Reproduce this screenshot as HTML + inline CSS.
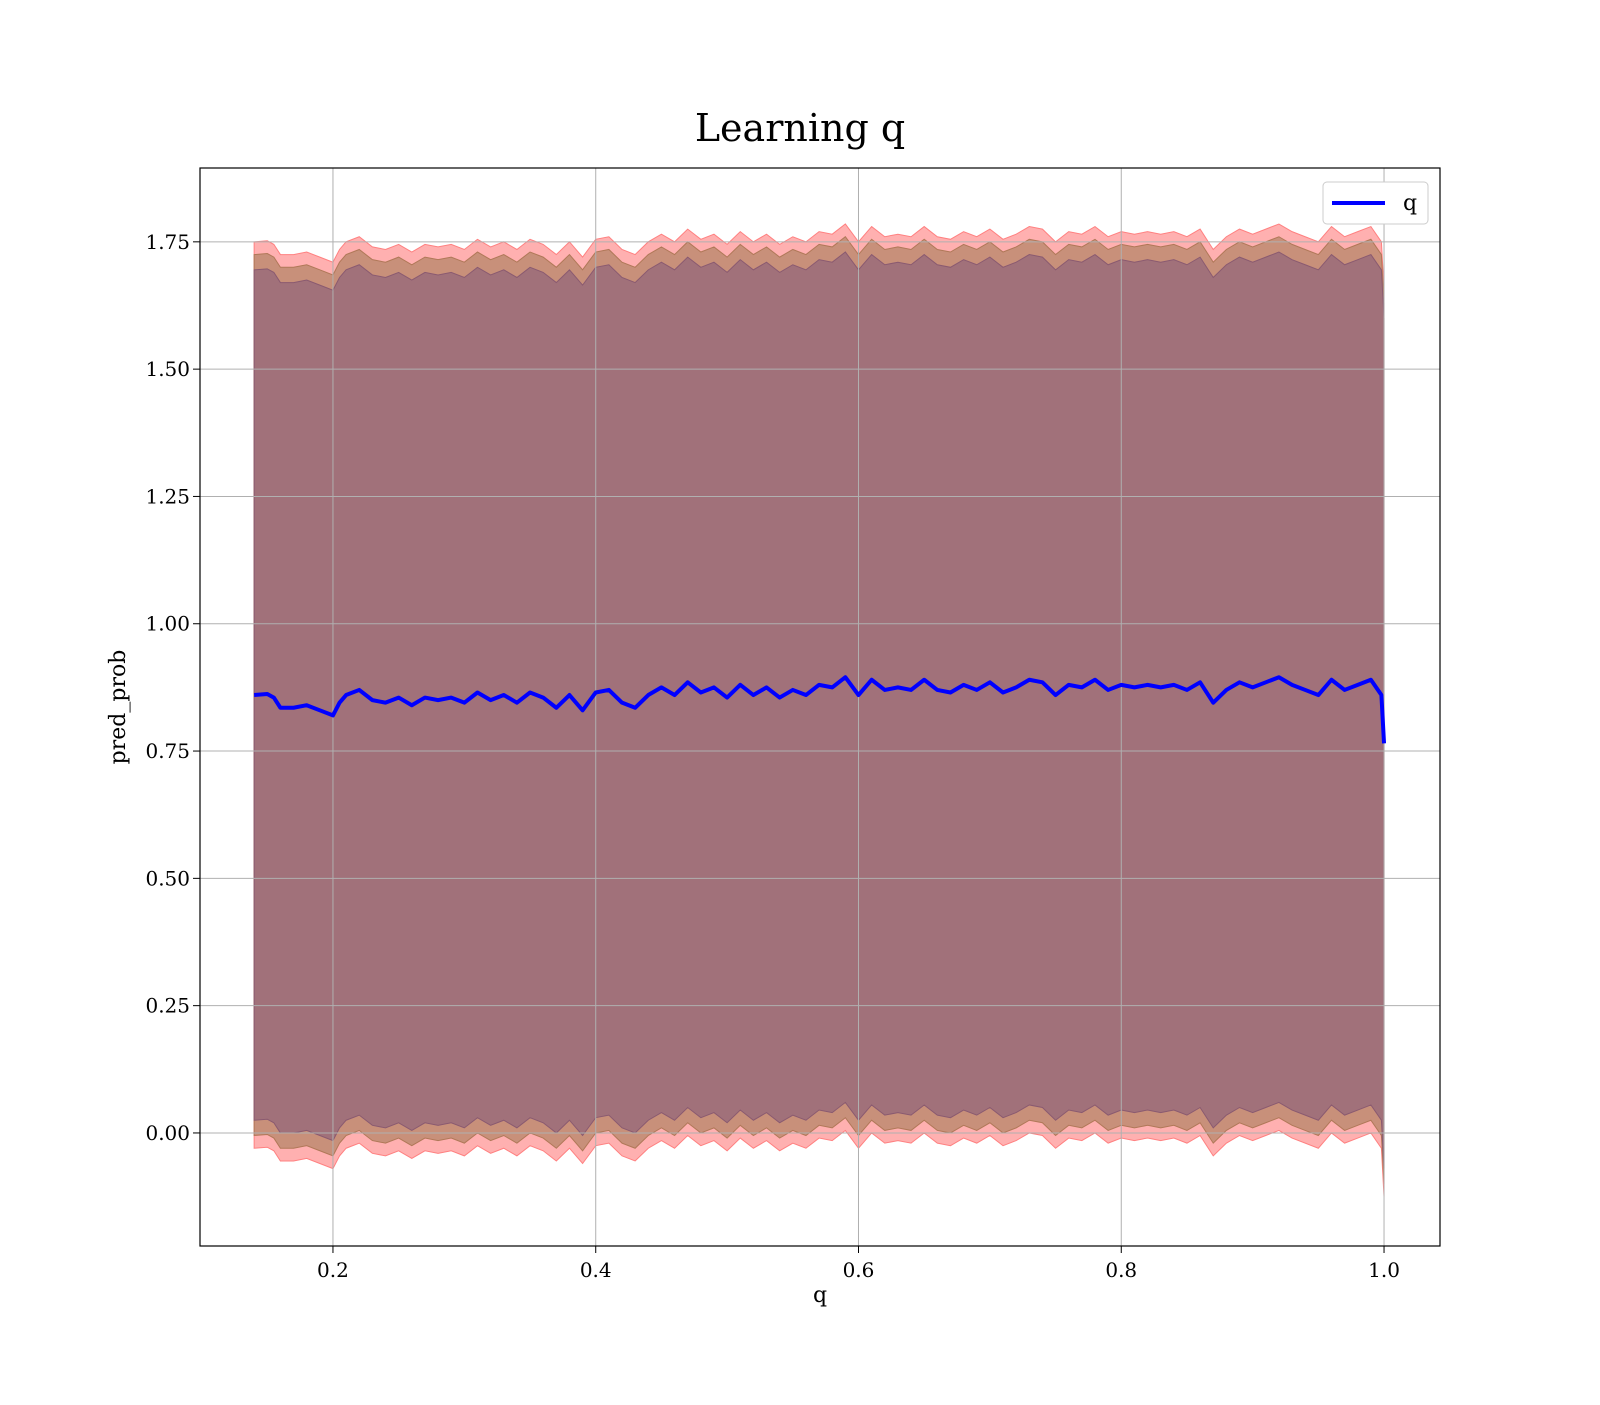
<!DOCTYPE html>
<html><head><meta charset="utf-8"><style>
body{margin:0;background:#fff}
svg text{font-family:"DejaVu Serif","Liberation Serif",serif;fill:#000}
</style></head><body>
<svg id="chart" width="1600" height="1400" xmlns="http://www.w3.org/2000/svg">
<text x="800" y="141" font-size="38" text-anchor="middle">Learning q</text>
<g id="plot"></g>
<text x="820" y="1302" font-size="22" text-anchor="middle">q</text>
<text transform="translate(125,707) rotate(-90)" font-size="22" text-anchor="middle">pred_prob</text>
<g>
<rect x="1323" y="182" width="105" height="42" rx="4" fill="#fff" stroke="#ccc"/>
<line x1="1332" y1="203" x2="1385" y2="203" stroke="#0000ff" stroke-width="4"/>
<text x="1403" y="210" font-size="22">q</text>
</g>
</svg>
<script>
const xs=[0.14,0.15,0.155,0.16,0.17,0.18,0.19,0.2,0.205,0.21,0.22,0.23,0.24,0.25,0.26,0.27,0.28,0.29,0.3,0.31,0.32,0.33,0.34,0.35,0.36,0.37,0.38,0.39,0.4,0.41,0.42,0.43,0.44,0.45,0.46,0.47,0.48,0.49,0.5,0.51,0.52,0.53,0.54,0.55,0.56,0.57,0.58,0.59,0.6,0.61,0.62,0.63,0.64,0.65,0.66,0.67,0.68,0.69,0.7,0.71,0.72,0.73,0.74,0.75,0.76,0.77,0.78,0.79,0.8,0.81,0.82,0.83,0.84,0.85,0.86,0.87,0.88,0.89,0.9,0.91,0.92,0.93,0.94,0.95,0.96,0.97,0.98,0.99,0.998,1.0];
const meanVals=[0.86,0.862,0.855,0.835,0.835,0.84,0.83,0.82,0.845,0.86,0.87,0.85,0.845,0.855,0.84,0.855,0.85,0.855,0.845,0.865,0.85,0.86,0.845,0.865,0.855,0.835,0.86,0.83,0.865,0.87,0.845,0.835,0.86,0.875,0.86,0.885,0.865,0.875,0.855,0.88,0.86,0.875,0.855,0.87,0.86,0.88,0.875,0.895,0.86,0.89,0.87,0.875,0.87,0.89,0.87,0.865,0.88,0.87,0.885,0.865,0.875,0.89,0.885,0.86,0.88,0.875,0.89,0.87,0.88,0.875,0.88,0.875,0.88,0.87,0.885,0.845,0.87,0.885,0.875,0.885,0.895,0.88,0.87,0.86,0.89,0.87,0.88,0.89,0.86,0.765];
const bandHalfWidths=[0.89,0.865,0.835];
const xTicks=[0.2,0.4,0.6,0.8,1.0];
const xTickLabels=["0.2","0.4","0.6","0.8","1.0"];
const yTicks=[0,0.25,0.5,0.75,1.0,1.25,1.5,1.75];
const yTickLabels=["0.00","0.25","0.50","0.75","1.00","1.25","1.50","1.75"];

const L=200,R=1440,T=168,B=1246,XMIN=0.0988,XMAX=1.0426,YMIN=-0.222,YMAX=1.895;
const sx=v=>L+(v-XMIN)/(XMAX-XMIN)*(R-L);
const sy=v=>B-(v-YMIN)/(YMAX-YMIN)*(B-T);
const NS="http://www.w3.org/2000/svg";
const g=document.getElementById('plot');
function mk(t,a){const e=document.createElementNS(NS,t);for(const k in a)e.setAttribute(k,a[k]);g.appendChild(e);return e;}
const fills=[["#ffb0b0","#ff8080"],["#c8907a","#b07858"],["#a1717a","#8a5a70"]];
const bandNames=['band-outer','band-middle','band-inner'];
bandHalfWidths.forEach((h,i)=>{
  let d='M'+xs.map((x,j)=>sx(x)+','+sy(meanVals[j]+h)).join(' L');
  for(let j=xs.length-1;j>=0;j--) d+=' L'+sx(xs[j])+','+sy(meanVals[j]-h);
  const p=mk('path',{d:d+'Z',fill:fills[i][0],stroke:fills[i][1],'stroke-width':1});
  
  
});
xTicks.forEach((v,i)=>{
  const x=sx(v);
  const l=mk('line',{x1:x,x2:x,y1:T,y2:B,stroke:'#b0b0b0','stroke-width':1});
  
  
  const tk=mk('line',{x1:x,x2:x,y1:B,y2:B+7,stroke:'#000','stroke-width':1});
  
  
  const t=mk('text',{x:x,y:B+31,'font-size':20,'text-anchor':'middle'});
  t.textContent=xTickLabels[i];
  
  
});
yTicks.forEach((v,i)=>{
  const y=sy(v);
  const l=mk('line',{x1:L,x2:R,y1:y,y2:y,stroke:'#b0b0b0','stroke-width':1});
  
  
  const tk=mk('line',{x1:L-7,x2:L,y1:y,y2:y,stroke:'#000','stroke-width':1});
  
  
  const t=mk('text',{x:L-10,y:y+7,'font-size':20,'text-anchor':'end'});
  t.textContent=yTickLabels[i];
  
  
});
const line=mk('polyline',{points:xs.map((x,j)=>sx(x)+','+sy(meanVals[j])).join(' '),fill:'none',stroke:'#0000ff','stroke-width':4,'stroke-linejoin':'round'});


const fr=mk('rect',{x:L,y:T,width:R-L,height:B-T,fill:'none',stroke:'#000','stroke-width':1.2});


</script>
</body></html>
